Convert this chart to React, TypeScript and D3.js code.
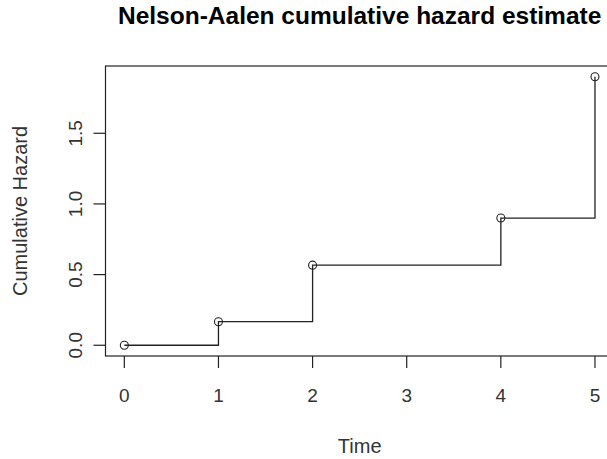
import React from "react";
import * as d3 from "d3";

const times = [0, 1, 2, 4, 5];
const cumHazard = [0, 0.1667, 0.5667, 0.9, 1.9];
const xTicks = [0, 1, 2, 3, 4, 5];
const yTicks = [0, 0.5, 1.0, 1.5];
const yTickLabels = ["0.0", "0.5", "1.0", "1.5"];
const title = "Nelson-Aalen cumulative hazard estimate";
const xLabel = "Time";
const yLabel = "Cumulative Hazard";

const W = 607;
const H = 459;
const FONT = "'Liberation Sans', Arial, sans-serif";

export default function App() {
  const x = d3.scaleLinear().domain([-0.2, 5.2]).range([105.5, 613.8]);
  const y = d3.scaleLinear().domain([-0.076, 1.976]).range([356, 66]);
  const pts: [number, number][] = times.map((t, i) => [t, cumHazard[i]]);
  const line = d3
    .line<[number, number]>()
    .x((d) => x(d[0]))
    .y((d) => y(d[1]))
    .curve(d3.curveStepAfter);
  const left = x.range()[0];
  const right = x.range()[1];
  const top = y.range()[1];
  const bottom = y.range()[0];
  const cx = (left + right) / 2;
  const cy = (top + bottom) / 2;
  return (
    <svg
      width={W}
      height={H}
      style={{ position: "absolute", left: 0, top: 0, background: "#fff" }}
      fontFamily={FONT}
    >
      <rect x={0} y={0} width={W} height={H} fill="#fff" />
      <text x={cx} y={24} textAnchor="middle" fontSize={24.5} fontWeight="bold" fill="#000">
        {title}
      </text>
      <rect
        x={left}
        y={top}
        width={right - left}
        height={bottom - top}
        fill="none"
        stroke="#222"
        strokeWidth={1.2}
      />
      {xTicks.map((t) => (
        <g key={"xt" + t}>
          <line x1={x(t)} x2={x(t)} y1={bottom} y2={bottom + 12} stroke="#222" strokeWidth={1.2} />
          <text x={x(t)} y={402} textAnchor="middle" fontSize={19} fill="#333">
            {String(t)}
          </text>
        </g>
      ))}
      {yTicks.map((t, i) => (
        <g key={"yt" + t}>
          <line x1={left} x2={left - 12} y1={y(t)} y2={y(t)} stroke="#222" strokeWidth={1.2} />
          <text
            transform={`translate(82,${y(t)}) rotate(-90)`}
            textAnchor="middle"
            fontSize={19}
            fill="#333"
          >
            {yTickLabels[i]}
          </text>
        </g>
      ))}
      <text x={cx} y={453} textAnchor="middle" fontSize={20} fill="#333">
        {xLabel}
      </text>
      <text
        transform={`translate(27,${cy}) rotate(-90)`}
        textAnchor="middle"
        fontSize={20}
        fill="#333"
      >
        {yLabel}
      </text>
      <path d={line(pts) ?? ""} fill="none" stroke="#222" strokeWidth={1.3} />
      {pts.map((p, i) => (
        <circle key={"c" + i} cx={x(p[0])} cy={y(p[1])} r={4} fill="none" stroke="#222" strokeWidth={1.1} />
      ))}
    </svg>
  );
}
